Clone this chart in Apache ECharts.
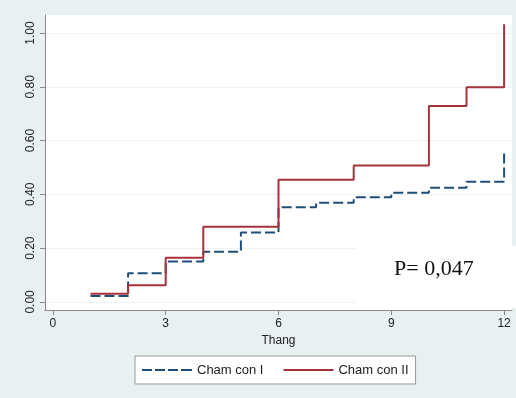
<!DOCTYPE html>
<html>
<head>
<meta charset="utf-8">
<script src="https://cdn.jsdelivr.net/npm/echarts@6/dist/echarts.min.js"></script>
<style>
html,body{margin:0;padding:0;background:#e9f0f2;}
#c{width:516px;height:398px;}
</style>
</head>
<body>
<div id="c"></div>
<script>
var xTicks = [0, 3, 6, 9, 12];
var yTicks = [0, 0.2, 0.4, 0.6, 0.8, 1.0];
var timesI = [1, 2, 3, 4, 5, 6, 7, 8, 9, 10, 11, 12];
var valuesI = [0.022, 0.107, 0.15, 0.187, 0.258, 0.352, 0.369, 0.389, 0.406, 0.425, 0.447, 0.565];
var timesII = [1, 2, 3, 4, 6, 8, 10, 11, 12];
var valuesII = [0.03, 0.062, 0.164, 0.28, 0.454, 0.507, 0.729, 0.798, 1.033];
var seriesNames = ['Cham con I', 'Cham con II'];
var xTitle = 'Thang';
var pText = 'P= 0,047';

function pairs(t, v) { return t.map(function (x, i) { return [x, v[i]]; }); }

var chart = echarts.init(document.getElementById('c'), null, {renderer: 'canvas'});
chart.setOption({
  backgroundColor: '#e9f0f2',
  animation: false,
  grid: {left: 45, top: 15, right: 4, bottom: 88, show: true, backgroundColor: '#ffffff', borderWidth: 0},
  xAxis: {
    type: 'value', min: -0.21, max: 12.21,
    name: xTitle, nameLocation: 'middle', nameGap: 24,
    nameTextStyle: {fontFamily: 'Liberation Sans, Arial', fontSize: 12, color: '#222'},
    axisLine: {show: true, onZero: false, lineStyle: {color: '#888', width: 1}},
    axisTick: {show: true, length: 5, customValues: xTicks, lineStyle: {color: '#888'}},
    axisLabel: {customValues: xTicks, margin: 8, fontFamily: 'Liberation Sans, Arial', fontSize: 12, color: '#222'},
    splitLine: {show: false}
  },
  yAxis: {
    type: 'value', min: -0.03, max: 1.067,
    axisLine: {show: true, onZero: false, lineStyle: {color: '#888', width: 1}},
    axisTick: {show: true, length: 5, customValues: yTicks, lineStyle: {color: '#888'}},
    axisLabel: {customValues: yTicks, rotate: 90, margin: 8, fontFamily: 'Liberation Sans, Arial', fontSize: 12, color: '#222',
      formatter: function (v) { return v.toFixed(2); }},
    splitLine: {show: true, lineStyle: {color: '#eef2f4', width: 1}}
  },
  legend: {
    left: 135, top: 356, padding: [7, 7, 7, 7],
    backgroundColor: '#ffffff', borderColor: '#999', borderWidth: 1,
    itemWidth: 50, itemHeight: 2, itemGap: 20,
    textStyle: {fontFamily: 'Liberation Sans, Arial', fontSize: 13, color: '#222', lineHeight: 14},
    data: [
      {name: seriesNames[0], icon: 'path://M0,0h10v2h-10zM13,0h10v2h-10zM26,0h10v2h-10zM39,0h11v2h-11z'},
      {name: seriesNames[1], icon: 'rect'}
    ]
  },
  series: [
    {
      name: seriesNames[0], type: 'line', step: 'end', symbol: 'none',
      data: pairs(timesI, valuesI),
      lineStyle: {color: '#1f4e79', width: 2, type: [10, 4]},
      itemStyle: {color: '#1f4e79'}
    },
    {
      name: seriesNames[1], type: 'line', step: 'end', symbol: 'none',
      data: pairs(timesII, valuesII),
      lineStyle: {color: '#a8323a', width: 2},
      itemStyle: {color: '#a8323a'}
    }
  ],
  graphic: [
    {type: 'rect', shape: {x: 356, y: 246, width: 160, height: 62}, style: {fill: '#ffffff'}, z: 100},
    {type: 'text', x: 394, y: 258, style: {text: pText, font: '22px "Liberation Serif", "Times New Roman", serif', fill: '#111'}, z: 101}
  ]
});
</script>
</body>
</html>
